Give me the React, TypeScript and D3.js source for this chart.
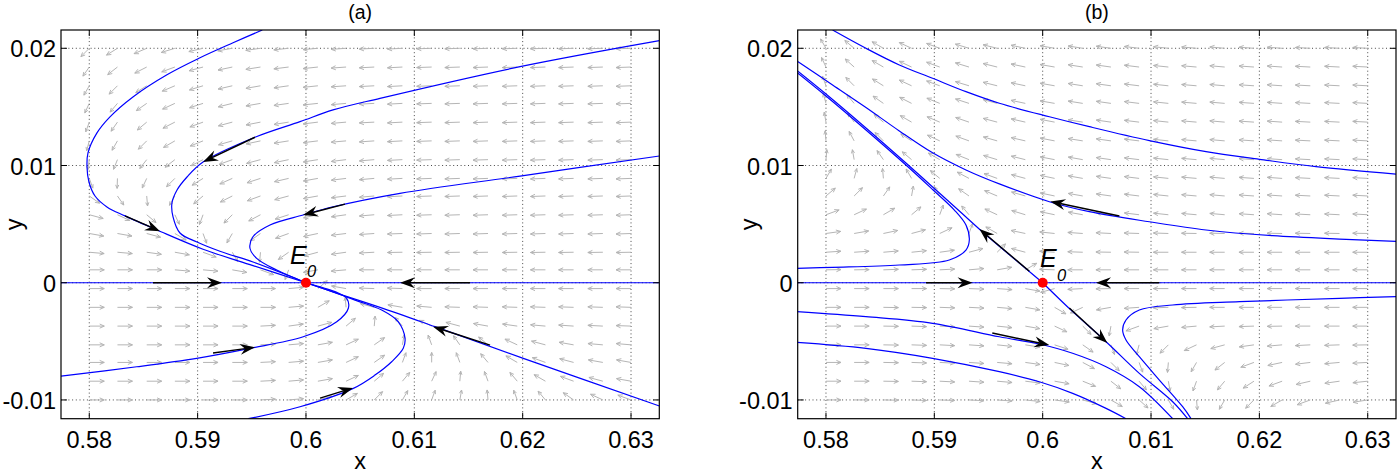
import React from 'react';
import * as d3 from 'd3';

// axes
const X_DOMAIN = [0.57739, 0.63261];
const Y_DOMAIN = [-0.0116, 0.02156];
const X_TICKS = [0.58, 0.59, 0.6, 0.61, 0.62, 0.63];
const X_TICK_LABELS = ['0.58', '0.59', '0.6', '0.61', '0.62', '0.63'];
const Y_TICKS = [-0.01, 0, 0.01, 0.02];
const Y_TICK_LABELS = ['-0.01', '0', '0.01', '0.02'];

// quiver grid (20 x 20)
const QUIVER_X = [0.58, 0.5826, 0.5853, 0.5879, 0.5905, 0.5932, 0.5958, 0.5984, 0.6011, 0.6037,
  0.6063, 0.6089, 0.6116, 0.6142, 0.6168, 0.6195, 0.6221, 0.6247, 0.6274, 0.63];
const QUIVER_Y = [0.02, 0.0184, 0.0168, 0.0153, 0.0137, 0.0121, 0.0105, 0.0089, 0.0074, 0.0058,
  0.0042, 0.0026, 0.0011, -0.0005, -0.0021, -0.0037, -0.0053, -0.0068, -0.0084, -0.01];

// arrow directions (degrees, screen, counter-clockwise from east), rows top -> bottom
const ANGLES_A = [
  [225, 212, 203, 197, 193, 190, 188, 186, 185, 184, 183, 183, 182, 182, 182, 182, 182, 182, 182, 182],
  [235, 218, 207, 200, 195, 192, 189, 187, 186, 184, 183, 183, 182, 182, 182, 182, 182, 182, 182, 182],
  [240, 225, 212, 203, 197, 193, 190, 188, 186, 184, 183, 183, 182, 182, 182, 182, 182, 182, 182, 182],
  [245, 230, 215, 205, 198, 194, 190, 188, 186, 185, 183, 183, 182, 182, 182, 182, 182, 182, 182, 182],
  [250, 235, 220, 207, 200, 195, 191, 189, 187, 185, 183, 183, 182, 182, 182, 182, 182, 182, 182, 182],
  [255, 240, 225, 210, 202, 196, 192, 189, 187, 185, 184, 183, 182, 182, 182, 182, 182, 182, 182, 182],
  [262, 248, 232, 218, 207, 200, 195, 192, 189, 187, 185, 183, 182, 182, 182, 182, 182, 182, 182, 182],
  [290, 268, 245, 225, 212, 204, 198, 193, 190, 187, 185, 183, 182, 182, 182, 182, 182, 182, 182, 182],
  [325, 305, 275, 240, 220, 207, 200, 195, 190, 187, 185, 183, 182, 182, 182, 182, 182, 182, 182, 182],
  [345, 335, 320, 295, 250, 225, 208, 198, 192, 188, 185, 183, 182, 182, 182, 182, 182, 182, 182, 182],
  [350, 350, 345, 330, 290, 240, 215, 200, 192, 187, 184, 182, 182, 182, 182, 182, 182, 182, 182, 182],
  [355, 355, 352, 350, 340, 300, 265, 215, 195, 188, 183, 181, 181, 181, 181, 181, 181, 181, 181, 181],
  [0, 0, 0, 355, 355, 350, 340, 250, 190, 185, 180, 180, 180, 180, 180, 180, 180, 180, 180, 180],
  [0, 0, 0, 0, 0, 0, 0, 5, 40, 170, 178, 178, 180, 180, 180, 180, 180, 180, 180, 180],
  [0, 0, 0, 0, 0, 0, 0, 5, 30, 95, 165, 170, 175, 178, 178, 178, 178, 178, 178, 178],
  [0, 0, 0, 0, 0, 0, 3, 8, 15, 40, 85, 130, 155, 165, 170, 172, 175, 176, 177, 178],
  [0, 0, 0, 0, 0, 0, 3, 5, 10, 25, 35, 80, 110, 125, 140, 155, 165, 170, 175, 175],
  [0, 0, 0, 0, 0, 0, 3, 5, 10, 25, 35, 70, 90, 110, 130, 150, 160, 165, 170, 170],
  [0, 0, 0, 0, 0, 0, 3, 5, 10, 25, 40, 50, 65, 85, 110, 130, 150, 160, 165, 170],
  [0, 0, 0, 0, 0, 0, 3, 5, 15, 30, 45, 60, 70, 80, 95, 110, 130, 145, 155, 160],
];

const ANGLES_B = [
  [120, 140, 150, 155, 160, 163, 166, 168, 170, 171, 172, 173, 174, 175, 175, 176, 176, 177, 177, 177],
  [115, 138, 150, 155, 160, 163, 166, 168, 170, 171, 172, 173, 174, 175, 175, 176, 176, 177, 177, 177],
  [110, 135, 148, 155, 160, 163, 166, 168, 170, 171, 172, 173, 174, 175, 175, 176, 176, 177, 177, 177],
  [105, 130, 145, 153, 158, 162, 165, 168, 170, 171, 172, 173, 174, 175, 175, 176, 176, 177, 177, 177],
  [100, 125, 140, 150, 157, 161, 165, 167, 169, 171, 172, 173, 174, 175, 175, 176, 176, 177, 177, 177],
  [95, 118, 135, 147, 155, 160, 164, 167, 169, 171, 172, 173, 174, 175, 175, 176, 176, 177, 177, 177],
  [85, 100, 125, 140, 150, 158, 163, 166, 169, 170, 172, 173, 174, 175, 175, 176, 176, 177, 177, 177],
  [60, 75, 95, 120, 140, 152, 160, 165, 168, 170, 172, 173, 174, 175, 175, 176, 176, 177, 177, 177],
  [40, 45, 55, 80, 120, 145, 157, 164, 168, 170, 172, 173, 174, 175, 175, 176, 176, 177, 177, 177],
  [20, 25, 30, 40, 70, 130, 155, 163, 168, 170, 172, 173, 174, 175, 175, 176, 176, 177, 177, 177],
  [8, 10, 12, 15, 25, 70, 150, 168, 174, 176, 177, 178, 178, 179, 179, 179, 179, 179, 179, 179],
  [4, 4, 5, 6, 8, 15, 45, 165, 176, 178, 179, 179, 180, 180, 180, 180, 180, 180, 180, 180],
  [1, 1, 2, 2, 3, 5, 10, 30, 178, 180, 180, 180, 180, 180, 180, 180, 180, 180, 180, 180],
  [0, 0, 0, 0, -1, -2, -4, -10, 195, 183, 181, 180, 180, 180, 180, 180, 180, 180, 180, 180],
  [0, 0, -1, -1, -2, -3, -5, -10, -30, 205, 190, 184, 182, 181, 180, 180, 180, 180, 180, 180],
  [0, 0, -1, -2, -3, -4, -6, -10, -25, -45, 260, 200, 190, 185, 183, 182, 181, 180, 180, 180],
  [0, 0, -1, -2, -3, -4, -6, -9, -18, -35, -70, 255, 225, 205, 195, 188, 185, 183, 182, 181],
  [0, 0, -1, -2, -3, -4, -5, -8, -12, -28, -45, -70, 265, 240, 218, 200, 192, 187, 185, 183],
  [0, 0, -1, -2, -3, -4, -5, -7, -10, -22, -38, -50, -80, 250, 230, 213, 200, 193, 188, 186],
  [0, 0, -1, -2, -2, -3, -4, -6, -8, -15, -30, -42, -60, -85, 240, 225, 210, 200, 193, 189],
];

// trajectories, panel (a)
const A_AXIS = [[0.57739, 0], [0.63261, 0]];
const A_CURVE_1 = [[0.59597, 0.02156], [0.59327, 0.02047], [0.59022, 0.01919], [0.58717, 0.01774], [0.58403, 0.01585],
  [0.58191, 0.01415], [0.58071, 0.01278], [0.57988, 0.01107], [0.57979, 0.00988], [0.57997, 0.00859], [0.58053, 0.0074],
  [0.58163, 0.00647], [0.5833, 0.0057], [0.58625, 0.0045], [0.5905, 0.00286], [0.59511, 0.00146], [0.6, 0]];
const A_CURVE_2 = [[0.63262, 0.02065], [0.61976, 0.01843], [0.60683, 0.01573], [0.6025, 0.01474], [0.59945, 0.01374],
  [0.59529, 0.01241], [0.5905, 0.0103], [0.58902, 0.00902], [0.5881, 0.00791], [0.58763, 0.0068], [0.58773, 0.00561],
  [0.58837, 0.00424], [0.58994, 0.00347], [0.59206, 0.00268], [0.59511, 0.00177], [0.59825, 0.00066], [0.6, 0]];
const A_CURVE_3 = [[0.63262, 0.01081], [0.61976, 0.0091], [0.60868, 0.00763], [0.6025, 0.00648], [0.59973, 0.00578],
  [0.59668, 0.00492], [0.59511, 0.00392], [0.59483, 0.00294], [0.59545, 0.00208], [0.5973, 0.00108], [0.6, 0]];
const A_CURVE_4 = [[0.57739, -0.00796], [0.58438, -0.00717], [0.58991, -0.00645], [0.59483, -0.0056], [0.59975, -0.00461],
  [0.60284, -0.00333], [0.60391, -0.00218], [0.60376, -0.00133], [0.60284, -0.00082], [0.6016, -0.00043], [0.6, 0]];
const A_CURVE_5 = [[0.59468, -0.0116], [0.59945, -0.01058], [0.60437, -0.00901], [0.60637, -0.00788], [0.60791, -0.00674],
  [0.60898, -0.0056], [0.60914, -0.00474], [0.60852, -0.00333], [0.60699, -0.00233], [0.60453, -0.00148],
  [0.60284, -0.0009], [0.6, 0]];
const A_CURVE_6 = [[0.63262, -0.01052], [0.62006, -0.00645], [0.61191, -0.00375], [0.60683, -0.0021], [0.60314, -0.00099], [0.6, 0]];

// trajectories, panel (b)
const B_AXIS = [[0.57739, 0], [0.63261, 0]];
const B_CURVE_1 = [[0.58061, 0.02156], [0.58369, 0.02], [0.58677, 0.01858], [0.58984, 0.01744], [0.59292, 0.0163],
  [0.596, 0.01531], [0.60062, 0.01416], [0.60431, 0.01331], [0.60985, 0.01212], [0.61508, 0.01118], [0.62, 0.01053],
  [0.62523, 0.0099], [0.63262, 0.00927]];
const B_CURVE_2 = [[0.57732, 0.01892], [0.58061, 0.01687], [0.58369, 0.01495], [0.58677, 0.01295], [0.58984, 0.01108],
  [0.59292, 0.00962], [0.596, 0.00843], [0.60062, 0.00691], [0.60431, 0.00606], [0.60985, 0.0052], [0.61508, 0.0045],
  [0.62123, 0.00401], [0.628, 0.0037], [0.63262, 0.00352]];
const B_CURVE_3 = [[0.6, 0], [0.59723, 0.00215], [0.59446, 0.00433], [0.59231, 0.00612], [0.58984, 0.00817],
  [0.58738, 0.01021], [0.58369, 0.0132], [0.58, 0.0161], [0.57732, 0.01811]];
const B_CURVE_4 = [[0.57732, 0.00123], [0.58061, 0.00131], [0.58677, 0.00151], [0.59138, 0.00194], [0.59292, 0.00279],
  [0.59323, 0.00364], [0.59292, 0.00492], [0.59185, 0.0062], [0.58984, 0.00795], [0.58738, 0.01004],
  [0.58369, 0.01303], [0.58, 0.01593], [0.57732, 0.01794]];
const B_CURVE_5 = [[0.63262, -0.00119], [0.6274, -0.00133], [0.61817, -0.00162], [0.612, -0.0019], [0.60892, -0.00233],
  [0.60769, -0.00318], [0.60738, -0.00404], [0.60769, -0.00489], [0.60892, -0.00631], [0.61077, -0.0083],
  [0.61292, -0.01058], [0.61369, -0.0116]];
const B_CURVE_6 = [[0.6, 0], [0.60277, -0.00247], [0.60585, -0.00503], [0.60892, -0.00773], [0.612, -0.01015], [0.61338, -0.0116]];
const B_CURVE_7 = [[0.57732, -0.00247], [0.58369, -0.0029], [0.58984, -0.00346], [0.596, -0.00461], [0.59969, -0.00523],
  [0.60276, -0.00602], [0.60585, -0.00717], [0.60892, -0.00887], [0.612, -0.0116]];
const B_CURVE_8 = [[0.57732, -0.00509], [0.58369, -0.0056], [0.58984, -0.00645], [0.596, -0.00759], [0.59969, -0.00845],
  [0.60277, -0.00944], [0.60585, -0.01072], [0.60769, -0.0116]];

// direction arrows on trajectories: [tailX, tailY, headX, headY]
const A_ARROWS = [
  [0.59529, 0.01241, 0.5905, 0.0103],
  [0.5833, 0.0057, 0.58653, 0.0044],
  [0.6036, 0.00671, 0.59973, 0.00578],
  [0.58588, 0, 0.59225, 0],
  [0.61515, 0, 0.60868, 0],
  [0.59142, -0.006, 0.5953, -0.00551],
  [0.6013, -0.00984, 0.60434, -0.00898],
  [0.61699, -0.00532, 0.61173, -0.00375],
];
const B_ARROWS = [
  [0.58923, 0, 0.59353, 0],
  [0.61077, 0, 0.60492, 0],
  [0.60708, 0.00569, 0.60071, 0.00693],
  [0.59877, 0.00098, 0.59416, 0.00458],
  [0.60246, -0.00216, 0.60597, -0.00515],
  [0.59535, -0.00429, 0.60061, -0.00532],
];

const TOP = 30;
const BOTTOM = 418.7;
const FONT = 'Liberation Sans, Arial, Helvetica, sans-serif';

function Panel({ id, left, right, title, curves, arrows, angles, eLabelX, eLabelY, yLabelX }) {
  const x = d3.scaleLinear().domain(X_DOMAIN).range([left, right]);
  const y = d3.scaleLinear().domain(Y_DOMAIN).range([BOTTOM, TOP]);
  const line = d3.line<number[]>()
    .x(d => x(d[0]))
    .y(d => y(d[1]))
    .curve(d3.curveCatmullRom.alpha(0.5));

  const quiver: string[] = [];
  angles.forEach((row, r) => {
    row.forEach((deg, i) => {
      const a = (deg * Math.PI) / 180;
      const c = Math.cos(a), s = Math.sin(a);
      const len = 1 / Math.sqrt((c / 15) ** 2 + (s / 10) ** 2);
      const x0 = x(QUIVER_X[i]), y0 = y(QUIVER_Y[r]);
      const x1 = x0 + len * c, y1 = y0 - len * s;
      const h = Math.min(5, len * 0.38);
      const b = 0.42;
      const bx1 = x1 - h * Math.cos(a - b), by1 = y1 + h * Math.sin(a - b);
      const bx2 = x1 - h * Math.cos(a + b), by2 = y1 + h * Math.sin(a + b);
      quiver.push(`M${x0},${y0}L${x1},${y1}M${bx1},${by1}L${x1},${y1}L${bx2},${by2}`);
    });
  });

  const clipId = `clip-${id}`;
  const cx = (left + right) / 2;

  return (
    <g>
      <defs>
        <clipPath id={clipId}>
          <rect x={left} y={TOP} width={right - left} height={BOTTOM - TOP} />
        </clipPath>
      </defs>
      {/* grid */}
      <g stroke="#333" strokeWidth={0.9} strokeDasharray="1,2.7">
        {X_TICKS.map(t => (
          <line key={`gx${t}`} x1={x(t)} x2={x(t)} y1={TOP} y2={BOTTOM} />
        ))}
        {Y_TICKS.map(t => (
          <line key={`gy${t}`} x1={left} x2={right} y1={y(t)} y2={y(t)} />
        ))}
      </g>
      {/* direction field */}
      <path d={quiver.join('')} fill="none" stroke="#b5b5b5" strokeWidth={1} />
      {/* trajectories */}
      <g clipPath={`url(#${clipId})`} fill="none" stroke="#0000ff" strokeWidth={1.2}>
        {curves.map((c, k) => (
          <path key={k} d={line(c) || ''} />
        ))}
      </g>
      {/* arrows on trajectories */}
      <g>
        {arrows.map((a, k) => {
          const tx = x(a[0]), ty = y(a[1]), hx = x(a[2]), hy = y(a[3]);
          const dx = hx - tx, dy = hy - ty;
          const d = Math.hypot(dx, dy);
          const ux = dx / d, uy = dy / d;
          const px = -uy, py = ux;
          const L = 15, W = 5.5, N = 10;
          const head = `M${hx},${hy}L${hx - L * ux + W * px},${hy - L * uy + W * py}L${hx - N * ux},${hy - N * uy}L${hx - L * ux - W * px},${hy - L * uy - W * py}Z`;
          return (
            <g key={k}>
              <line x1={tx} y1={ty} x2={hx - N * ux} y2={hy - N * uy} stroke="#000" strokeWidth={1.4} />
              <path d={head} fill="#000" />
            </g>
          );
        })}
      </g>
      {/* equilibrium */}
      <circle cx={x(0.6)} cy={y(0)} r={5} fill="#ff0000" />
      <text x={eLabelX} y={eLabelY} fontFamily={FONT} fontStyle="italic" fontSize={25} fill="#000">E</text>
      <text x={eLabelX + 17} y={eLabelY + 13.5} fontFamily={FONT} fontStyle="italic" fontSize={16.5} fill="#000">0</text>
      {/* box and ticks */}
      <rect x={left} y={TOP} width={right - left} height={BOTTOM - TOP} fill="none" stroke="#000" strokeWidth={1.2} />
      <g stroke="#000" strokeWidth={1}>
        {X_TICKS.map(t => (
          <g key={`tx${t}`}>
            <line x1={x(t)} x2={x(t)} y1={BOTTOM} y2={BOTTOM - 6} />
            <line x1={x(t)} x2={x(t)} y1={TOP} y2={TOP + 6} />
          </g>
        ))}
        {Y_TICKS.map(t => (
          <g key={`ty${t}`}>
            <line x1={left} x2={left + 6} y1={y(t)} y2={y(t)} />
            <line x1={right} x2={right - 6} y1={y(t)} y2={y(t)} />
          </g>
        ))}
      </g>
      <g fontFamily={FONT} fontSize={23.5} fill="#000">
        {X_TICKS.map((t, k) => (
          <text key={`lx${t}`} x={x(t)} y={448} textAnchor="middle">{X_TICK_LABELS[k]}</text>
        ))}
        {Y_TICKS.map((t, k) => (
          <text key={`ly${t}`} x={left - 5} y={y(t) + 9} textAnchor="end">{Y_TICK_LABELS[k]}</text>
        ))}
        <text x={cx} y={468.5} textAnchor="middle">x</text>
        <text transform={`translate(${yLabelX},${(TOP + BOTTOM) / 2}) rotate(-90)`} textAnchor="middle">y</text>
      </g>
      <text x={cx} y={19} textAnchor="middle" fontFamily={FONT} fontSize={19.5} fill="#000">{title}</text>
    </g>
  );
}

export default function App() {
  return (
    <svg
      width={1397}
      height={474}
      viewBox="0 0 1397 474"
      style={{ position: 'absolute', left: 0, top: 0, background: '#fff' }}
    >
      <rect x={0} y={0} width={1397} height={474} fill="#fff" />
      <Panel
        id="a"
        left={61}
        right={659.3}
        title="(a)"
        curves={[A_AXIS, A_CURVE_1, A_CURVE_2, A_CURVE_3, A_CURVE_4, A_CURVE_5, A_CURVE_6]}
        arrows={A_ARROWS}
        angles={ANGLES_A}
        eLabelX={290}
        eLabelY={263.5}
        yLabelX={22}
      />
      <Panel
        id="b"
        left={797.7}
        right={1396}
        title="(b)"
        curves={[B_AXIS, B_CURVE_1, B_CURVE_2, B_CURVE_3, B_CURVE_4, B_CURVE_5, B_CURVE_6, B_CURVE_7, B_CURVE_8]}
        arrows={B_ARROWS}
        angles={ANGLES_B}
        eLabelX={1040}
        eLabelY={267}
        yLabelX={757}
      />
    </svg>
  );
}
